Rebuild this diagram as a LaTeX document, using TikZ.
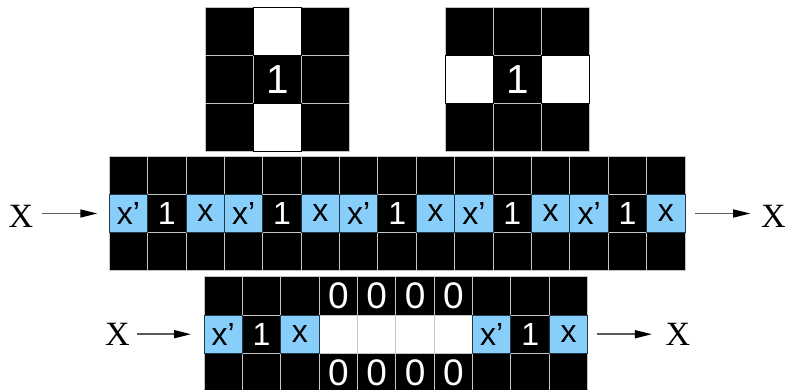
\documentclass[tikz,border=0pt]{standalone}
\usepackage{fontspec}
\setmainfont{Liberation Sans}
\newfontfamily\serifx{Liberation Serif}
\usetikzlibrary{arrows.meta}

\definecolor{cellblue}{HTML}{87CEFA}
\definecolor{celledge}{HTML}{C4C4C4}
\definecolor{blueedge}{HTML}{24384C}
\definecolor{feedgray}{HTML}{5A5A5A}

\newcommand{\bigfnt}{\fontsize{40.5}{40.5}\selectfont}
\newcommand{\midfnt}{\fontsize{32}{32}\selectfont}
\newcommand{\zerofnt}{\fontsize{37}{37}\selectfont}

\tikzset{
  cell/.style={inner sep=0pt, outer sep=0pt, line width=1pt, minimum size=#1, text=white},
  blk/.style={fill=black, draw=celledge},
  blu/.style={fill=cellblue, draw=blueedge, text=black},
  wht/.style={fill=white, draw=black},
  whtgap/.style={fill=white, draw=celledge},
  feed/.style={draw=feedgray, line width=1.5pt,
    -{Triangle[length=17pt,width=8pt,fill=black,color=black]}},
  xlabel/.style={font=\serifx\fontsize{34}{34}\selectfont, inner sep=0pt, outer sep=0pt},
}

\begin{document}
\begin{tikzpicture}[x=1pt,y=-1pt,line join=miter]
  % Frame of the original artwork.
  \useasboundingbox (0,0) rectangle (786,389);
  \clip (0,0) rectangle (786,389);

  % Top left kernel: vertical opening.
  \foreach \r/\y in {1/31.3,2/79.3,3/127.3}
    \foreach \c/\x in {1/229.3,2/277.3,3/325.3}
      \node[cell=48pt, blk] (ka-\r-\c) at (\x,\y) {};
  \node[cell=48pt, blk, font=\bigfnt] (ka-2-2) at (277.3,79.3) {1};
  \node[cell=48pt, wht] (ka-1-2) at (277.3,31.3) {};
  \node[cell=48pt, wht] (ka-3-2) at (277.3,127.3) {};

  % Top right kernel: horizontal opening.
  \foreach \r/\y in {1/31.3,2/79.3,3/127.3}
    \foreach \c/\x in {1/469.3,2/517.3,3/565.3}
      \node[cell=48pt, blk] (kb-\r-\c) at (\x,\y) {};
  \node[cell=48pt, blk, font=\bigfnt] (kb-2-2) at (517.3,79.3) {1};
  \node[cell=48pt, wht] (kb-2-1) at (469.3,79.3) {};
  \node[cell=48pt, wht] (kb-2-3) at (565.3,79.3) {};

  % Long strip: black rims, then the 1 cells, then the blue cells on top.
  \foreach \c in {1,...,15} {
    \pgfmathsetmacro\cx{109.3+38.38*(\c-0.5)}
    \node[cell=38.38pt, blk] (mt-\c) at (\cx,175.2) {};
    \node[cell=38.38pt, blk] (mb-\c) at (\cx,251.8) {};
  }
  \foreach \c in {2,5,...,14} {
    \pgfmathsetmacro\cx{109.3+38.38*(\c-0.5)}
    \node[cell=38.38pt, blk, font=\midfnt] (mm-\c) at (\cx,213.5) {1};
  }
  \foreach \c in {1,4,...,13} {
    \pgfmathsetmacro\cx{109.3+38.38*(\c-0.5)}
    \node[cell=38.38pt, blu, font=\midfnt] (mm-\c) at (\cx,213.5) {x’};
  }
  \foreach \c in {3,6,...,15} {
    \pgfmathsetmacro\cx{109.3+38.38*(\c-0.5)}
    \node[cell=38.38pt, blu, font=\midfnt] (mm-\c) at (\cx,213.5) {x};
  }

  % Short strip with a gap of zeros.
  \foreach \c in {1,2,3,8,9,10} {
    \pgfmathsetmacro\cx{204+38.37*(\c-0.5)}
    \node[cell=38.37pt, blk] (st-\c) at (\cx,295.9) {};
    \node[cell=38.37pt, blk] (sb-\c) at (\cx,372.5) {};
  }
  \foreach \c in {4,...,7} {
    \pgfmathsetmacro\cx{204+38.37*(\c-0.5)}
    \node[cell=38.37pt, blk, font=\zerofnt] (st-\c) at (\cx,295.9) {0};
    \node[cell=38.37pt, blk, font=\zerofnt] (sb-\c) at (\cx,372.5) {0};
    \node[cell=38.37pt, whtgap] (sm-\c) at (\cx,334.2) {};
  }
  \foreach \c/\t/\s in {2/1/blk, 9/1/blk, 1/x’/blu, 3/x/blu, 8/x’/blu, 10/x/blu} {
    \pgfmathsetmacro\cx{204+38.37*(\c-0.5)}
    \node[cell=38.37pt, \s, font=\midfnt] (sm-\c) at (\cx,334.2) {\t};
  }

  % Inputs and outputs.
  \node[xlabel] (xin) at (21,216.5) {X};
  \node[xlabel] (xout) at (773.5,216.5) {X};
  \node[xlabel] (yin) at (117.5,334.2) {X};
  \node[xlabel] (yout) at (678,334.2) {X};

  \draw[feed, shorten <=8.7pt, shorten >=12pt] (xin.east |- mm-1.west) -- (mm-1.west);
  \draw[feed, shorten <=10pt, shorten >=11pt] (mm-15.east) -- (xout.west |- mm-15.east);
  \draw[feed, shorten <=7pt, shorten >=13pt] (yin.east) -- (sm-1.west);
  \draw[feed, shorten <=9.3pt, shorten >=13.8pt] (sm-10.east) -- (yout.west);
\end{tikzpicture}
\end{document}
